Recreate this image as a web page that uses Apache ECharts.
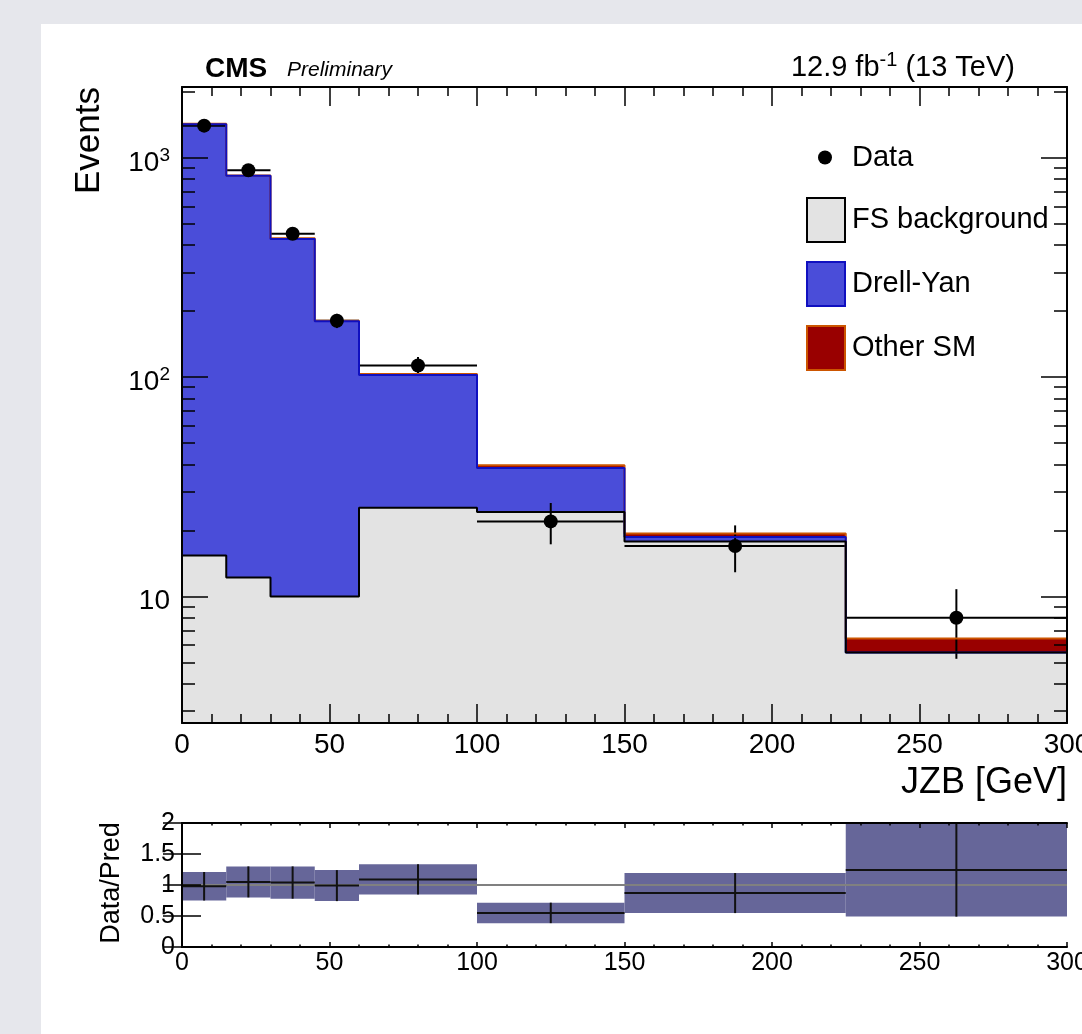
<!DOCTYPE html>
<html>
<head>
<meta charset="utf-8">
<script src="https://cdn.jsdelivr.net/npm/echarts@6/dist/echarts.min.js"></script>
<style>
  html, body { margin: 0; padding: 0; background: #e6e7ec; }
  #panel { position: absolute; left: 41px; top: 24px; right: 0; bottom: 0; background: #fff; }
  #chart { position: absolute; left: 0; top: 0; width: 1082px; height: 1034px; }
</style>
</head>
<body>
<div id="panel"></div>
<div id="chart"></div>
<script>
// binning and values
const binEdges = [0, 15, 30, 45, 60, 100, 150, 225, 300];
const binCenters = [7.5, 22.5, 37.5, 52.5, 80, 125, 187.5, 262.5];
const fsBkg = [15.4, 12.2, 10.0, 10.0, 25.4, 24.3, 17.8, 5.56];
const drellYan = [1408, 816, 417, 170, 77, 14.2, 0.9, 0];
const otherSM = [7, 4, 3, 1, 1, 1.2, 0.7, 0.88];
const dataVals = [1403, 879, 451, 181, 113, 22, 17, 8];
const dataErr = [37.5, 29.6, 21.2, 13.5, 10.6, 4.7, 4.1, 2.8];
const ratioVals = [0.98, 1.05, 1.04, 0.99, 1.09, 0.55, 0.87, 1.24];
const ratioErr = [0.23, 0.25, 0.26, 0.25, 0.245, 0.165, 0.323, 0.75];

// tick positions / labels
const yMajorTicks = [10, 100, 1000];
const yMajorLabels = ['10', '10{sup|2}', '10{sup|3}'];
const yMinorTicks = [3, 4, 5, 6, 7, 8, 9, 20, 30, 40, 50, 60, 70, 80, 90,
  200, 300, 400, 500, 600, 700, 800, 900, 2000];

const FONT = '"Liberation Sans", Arial, sans-serif';

// stacked tops, like THStack draws them
const fsTop = fsBkg.slice();
const dyTop = fsBkg.map((v, i) => v + drellYan[i]);
const totTop = dyTop.map((v, i) => v + otherSM[i]);

function stepData(vals) {
  return binEdges.map((e, i) => [e, vals[Math.min(i, vals.length - 1)]]);
}

const errRows = dataVals.map((v, i) =>
  [binEdges[i], binEdges[i + 1], binCenters[i], v, v - dataErr[i], v + dataErr[i]]);
const ratioRows = ratioVals.map((r, i) =>
  [binEdges[i], binEdges[i + 1], binCenters[i], r, r - ratioErr[i], r + ratioErr[i]]);

function yLabel(v) {
  for (let i = 0; i < yMajorTicks.length; i++) {
    if (Math.abs(Math.log10(v) - Math.log10(yMajorTicks[i])) < 0.01) return yMajorLabels[i];
  }
  return '';
}

const black = { color: '#000', width: 2 };
const tickStyle = { color: '#000', width: 1.5 };

function xAx(grid, pos, showLabel, major, minor, fs) {
  return {
    gridIndex: grid, type: 'value', min: 0, max: 300, interval: 50, position: pos, z: 10,
    axisLine: { show: true, onZero: false, lineStyle: black },
    axisTick: { show: true, inside: true, length: major, lineStyle: tickStyle },
    minorTick: { show: true, splitNumber: 5, length: minor, lineStyle: tickStyle },
    axisLabel: { show: showLabel, fontSize: fs, color: '#000', fontFamily: FONT, margin: grid === 0 ? 8 : 4 },
    splitLine: { show: false }, minorSplitLine: { show: false }
  };
}

function yLog(pos, ticks, len, withLine, withLabel) {
  return {
    gridIndex: 0, type: 'log', min: 2.65, max: 2105, position: pos, z: 10,
    axisLine: { show: withLine, lineStyle: black },
    axisTick: { show: true, inside: true, length: len, customValues: ticks, lineStyle: tickStyle },
    axisLabel: {
      show: withLabel, customValues: yMajorTicks, formatter: yLabel,
      fontSize: 28, lineHeight: 34, color: '#000', fontFamily: FONT, margin: 12,
      padding: [10, 0, 0, 0],
      rich: { sup: { fontSize: 19, lineHeight: 19, verticalAlign: 'top', fontFamily: FONT, color: '#000' } }
    },
    splitLine: { show: false }
  };
}

function yRatio(pos, withLabel) {
  return {
    gridIndex: 1, type: 'value', min: 0, max: 2, interval: 0.5, position: pos, z: 10,
    axisLine: { show: true, lineStyle: black },
    axisTick: { show: true, inside: true, length: 19, lineStyle: tickStyle },
    axisLabel: { show: withLabel, fontSize: 25, color: '#000', fontFamily: FONT, margin: 7 },
    splitLine: { show: false }
  };
}

const chart = echarts.init(document.getElementById('chart'), null, { renderer: 'canvas' });

const option = {
  animation: false,
  backgroundColor: 'transparent',
  textStyle: { fontFamily: FONT },
  grid: [
    { left: 182, top: 87, width: 885, height: 636, outerBoundsMode: 'none', containLabel: false },
    { left: 182, top: 823, width: 885, height: 124, outerBoundsMode: 'none', containLabel: false }
  ],
  title: [
    { text: 'CMS', left: 205, top: 55, padding: 0,
      textStyle: { fontSize: 28, fontWeight: 'bold', color: '#000', fontFamily: FONT } },
    { text: 'Preliminary', left: 287, top: 60, padding: 0,
      textStyle: { fontSize: 21, fontStyle: 'italic', fontWeight: 'normal', color: '#000', fontFamily: FONT } },
    { text: '12.9 fb{sup|-1} (13 TeV)', right: 67, top: 50, padding: 0,
      textStyle: { fontSize: 29, lineHeight: 35, fontWeight: 'normal', color: '#000', fontFamily: FONT,
        rich: { sup: { fontSize: 20, lineHeight: 20, verticalAlign: 'top', color: '#000', fontFamily: FONT } } } },
    { text: 'JZB [GeV]', right: 15, top: 765, padding: 0,
      textStyle: { fontSize: 36, fontWeight: 'normal', color: '#000', fontFamily: FONT } }
  ],
  graphic: [
    { type: 'text', x: 89, y: 87, rotation: Math.PI / 2,
      style: { text: 'Events', font: '35px ' + FONT, fill: '#000',
        align: 'right', verticalAlign: 'middle', textAlign: 'right', textVerticalAlign: 'middle' } },
    { type: 'text', x: 112, y: 883, rotation: Math.PI / 2,
      style: { text: 'Data/Pred', font: '27px ' + FONT, fill: '#000',
        align: 'center', verticalAlign: 'middle', textAlign: 'center', textVerticalAlign: 'middle' } }
  ],
  legend: [
    { data: [{ name: 'Data', icon: 'circle', itemStyle: { color: '#000', borderWidth: 0 } }],
      left: 818, top: 143, orient: 'vertical', itemWidth: 38, itemHeight: 14, padding: 0,
      selectedMode: false, textStyle: { fontSize: 29, color: '#000', fontFamily: FONT, padding: [0, 0, 0, 3] } },
    { data: [
        { name: 'FS background', icon: 'rect', itemStyle: { color: '#e3e3e3', borderColor: '#000', borderWidth: 2 } },
        { name: 'Drell-Yan', icon: 'rect', itemStyle: { color: '#4a4dd9', borderColor: '#1010c0', borderWidth: 2 } },
        { name: 'Other SM', icon: 'rect', itemStyle: { color: '#990000', borderColor: '#cc5500', borderWidth: 2 } }
      ],
      left: 806, top: 197, orient: 'vertical', itemWidth: 38, itemHeight: 44, itemGap: 18, padding: 0,
      selectedMode: false, textStyle: { fontSize: 29, color: '#000', fontFamily: FONT, padding: [0, 0, 0, 2] } }
  ],
  xAxis: [
    xAx(0, 'bottom', true, 19, 9, 28),
    xAx(0, 'top', false, 19, 9, 28),
    xAx(1, 'bottom', true, 5, 2.5, 25),
    xAx(1, 'top', false, 5, 2.5, 25)
  ],
  yAxis: [
    yLog('left', yMajorTicks, 26, true, true),
    yLog('left', yMinorTicks, 13, false, false),
    yLog('right', yMajorTicks, 26, true, false),
    yLog('right', yMinorTicks, 13, false, false),
    yRatio('left', true),
    yRatio('right', false)
  ],
  series: [
    { name: 'Other SM', type: 'line', xAxisIndex: 0, yAxisIndex: 0, step: 'end',
      data: stepData(totTop), symbol: 'none', itemStyle: { color: '#990000' },
      lineStyle: { color: '#cc5500', width: 2 },
      areaStyle: { color: '#990000', opacity: 1, origin: 'start' } },
    { name: 'Drell-Yan', type: 'line', xAxisIndex: 0, yAxisIndex: 0, step: 'end',
      data: stepData(dyTop), symbol: 'none', itemStyle: { color: '#4a4dd9' },
      lineStyle: { color: '#1010c0', width: 2 },
      areaStyle: { color: '#4a4dd9', opacity: 1, origin: 'start' } },
    { name: 'FS background', type: 'line', xAxisIndex: 0, yAxisIndex: 0, step: 'end',
      data: stepData(fsTop), symbol: 'none', itemStyle: { color: '#e3e3e3' },
      lineStyle: { color: '#000', width: 2 },
      areaStyle: { color: '#e3e3e3', opacity: 1, origin: 'start' } },
    { name: 'dataErr', type: 'custom', xAxisIndex: 0, yAxisIndex: 0, data: errRows,
      encode: { x: [0, 1, 2], y: [3, 4, 5] }, silent: true, z: 3,
      renderItem: function (params, api) {
        const pL = api.coord([api.value(0), api.value(3)]);
        const pR = api.coord([api.value(1), api.value(3)]);
        const pLo = api.coord([api.value(2), api.value(4)]);
        const pHi = api.coord([api.value(2), api.value(5)]);
        return { type: 'group', children: [
          { type: 'line', shape: { x1: pL[0], y1: pL[1], x2: pR[0], y2: pR[1] }, style: { stroke: '#000', lineWidth: 2 } },
          { type: 'line', shape: { x1: pLo[0], y1: pLo[1], x2: pHi[0], y2: pHi[1] }, style: { stroke: '#000', lineWidth: 2 } }
        ] };
      } },
    { name: 'Data', type: 'scatter', xAxisIndex: 0, yAxisIndex: 0, z: 4,
      data: binCenters.map((x, i) => [x, dataVals[i]]),
      symbol: 'circle', symbolSize: 14, itemStyle: { color: '#000', opacity: 1 } },
    { name: 'ratioBand', type: 'custom', xAxisIndex: 2, yAxisIndex: 4, data: ratioRows,
      encode: { x: [0, 1, 2], y: [3, 4, 5] }, silent: true, z: 2,
      renderItem: function (params, api) {
        const a = api.coord([api.value(0), api.value(5)]);
        const b = api.coord([api.value(1), api.value(4)]);
        return { type: 'rect', shape: { x: a[0], y: a[1], width: b[0] - a[0], height: b[1] - a[1] },
          style: { fill: '#666699' } };
      } },
    { name: 'ratioOne', type: 'line', xAxisIndex: 2, yAxisIndex: 4, z: 3, silent: true,
      data: [[0, 1], [300, 1]], symbol: 'none', lineStyle: { color: '#808080', width: 2 } },
    { name: 'ratioErr', type: 'custom', xAxisIndex: 2, yAxisIndex: 4, data: ratioRows,
      encode: { x: [0, 1, 2], y: [3, 4, 5] }, silent: true, z: 4,
      renderItem: function (params, api) {
        const pL = api.coord([api.value(0), api.value(3)]);
        const pR = api.coord([api.value(1), api.value(3)]);
        const pLo = api.coord([api.value(2), api.value(4)]);
        const pHi = api.coord([api.value(2), Math.min(api.value(5), 2)]);
        return { type: 'group', children: [
          { type: 'line', shape: { x1: pL[0], y1: pL[1], x2: pR[0], y2: pR[1] }, style: { stroke: '#111', lineWidth: 2 } },
          { type: 'line', shape: { x1: pLo[0], y1: pLo[1], x2: pHi[0], y2: pHi[1] }, style: { stroke: '#111', lineWidth: 2 } }
        ] };
      } }
  ]
};

chart.setOption(option);
</script>
</body>
</html>
